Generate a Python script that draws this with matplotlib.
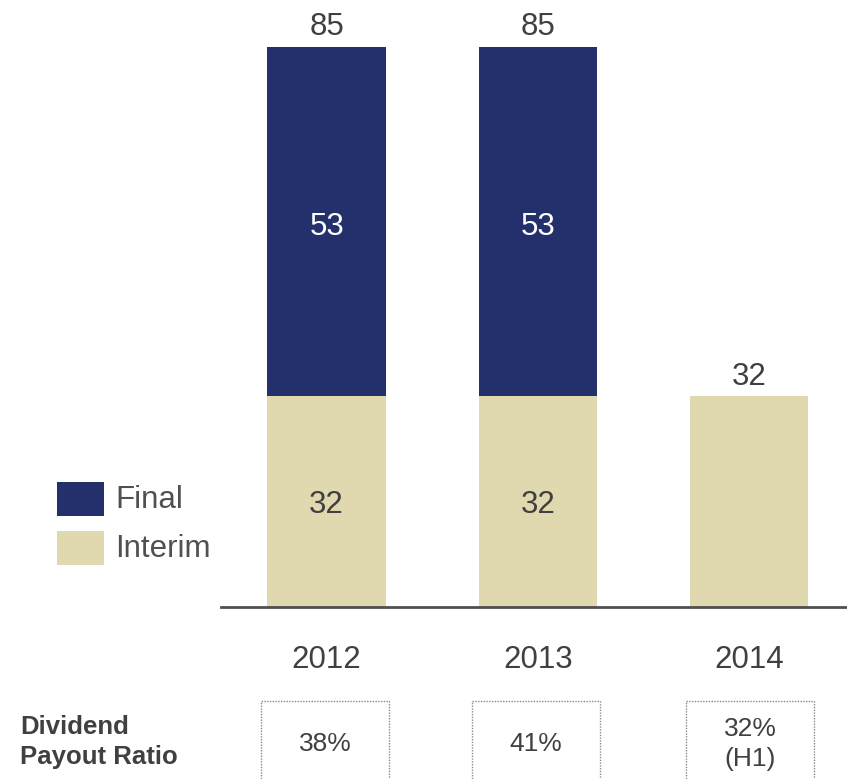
import matplotlib
matplotlib.use("Agg")
import matplotlib.pyplot as plt
from matplotlib.patches import Rectangle

years = ["2012", "2013", "2014"]
interim = [32, 32, 32]
final = [53, 53, 0]
totals = [85, 85, 32]
payout = ["38%", "41%", "32%\n(H1)"]
legend_labels = ["Final", "Interim"]

NAVY = "#24306B"
BEIGE = "#E0D8AE"
TXT = "#404040"

plt.rcParams['font.family'] = ['Liberation Sans', 'DejaVu Sans']

fig = plt.figure(figsize=(8.47, 7.79), dpi=100)
W, H = 847, 779
ax = fig.add_axes([221 / W, 1 - 607 / H, 626 / W, 607 / H])

x = list(range(len(years)))
bw = 0.56
ax.bar(x, interim, width=bw, color=BEIGE)
ax.bar(x, final, bottom=interim, width=bw, color=NAVY)

FS = 22.5
for i in x:
    if final[i]:
        ax.text(i, interim[i] / 2 - 0.45, str(interim[i]), ha="center",
                va="center", fontsize=FS, color=TXT)
        ax.text(i, interim[i] + final[i] / 2 - 0.8, str(final[i]),
                ha="center", va="center", fontsize=FS, color="white")
    ax.annotate(str(totals[i]), (i, totals[i]), xytext=(0, 14),
                textcoords="offset points", ha="center", va="center",
                fontsize=FS, color=TXT)

ax.set_xlim(-0.5, 2.464)
ax.set_ylim(0, 92.1)
for s in ["top", "right", "left"]:
    ax.spines[s].set_visible(False)
ax.spines["bottom"].set_color("#505050")
ax.spines["bottom"].set_linewidth(2)
ax.set_yticks([])
ax.set_xticks(x)
ax.set_xticklabels(years, fontsize=FS, color=TXT)
ax.tick_params(axis="x", length=0, pad=27)

# legend
leg_colors = [NAVY, BEIGE]
leg_tops = [482, 531]
for lab, col, top in zip(legend_labels, leg_colors, leg_tops):
    fig.add_artist(Rectangle((57 / W, 1 - (top + 34) / H), 47 / W, 34 / H,
                             transform=fig.transFigure, facecolor=col,
                             edgecolor="none"))
    fig.text(115 / W, 1 - (top + 18) / H, lab, ha="left", va="center",
             fontsize=FS, color="#505050")

# payout ratio row
fig.text(20 / W, 1 - 742 / H, "Dividend\nPayout Ratio", ha="left",
         va="center", fontsize=18.5, fontweight="bold", color=TXT,
         linespacing=1.35)
boxes = [(261, 389), (472, 600), (686, 814)]
for (l, r), p in zip(boxes, payout):
    rect = Rectangle((l / W, 1 - 790 / H), (r - l) / W, (790 - 701) / H,
                     transform=fig.transFigure, fill=False,
                     edgecolor="#8a8a8a", linestyle=(0, (1, 1)),
                     linewidth=1.0, clip_on=False)
    fig.add_artist(rect)
    fig.text((l + r) / 2 / W, 1 - 744 / H, p, ha="center", va="center",
             fontsize=19, color=TXT, linespacing=1.3)

fig.savefig("out.png", dpi=100)
